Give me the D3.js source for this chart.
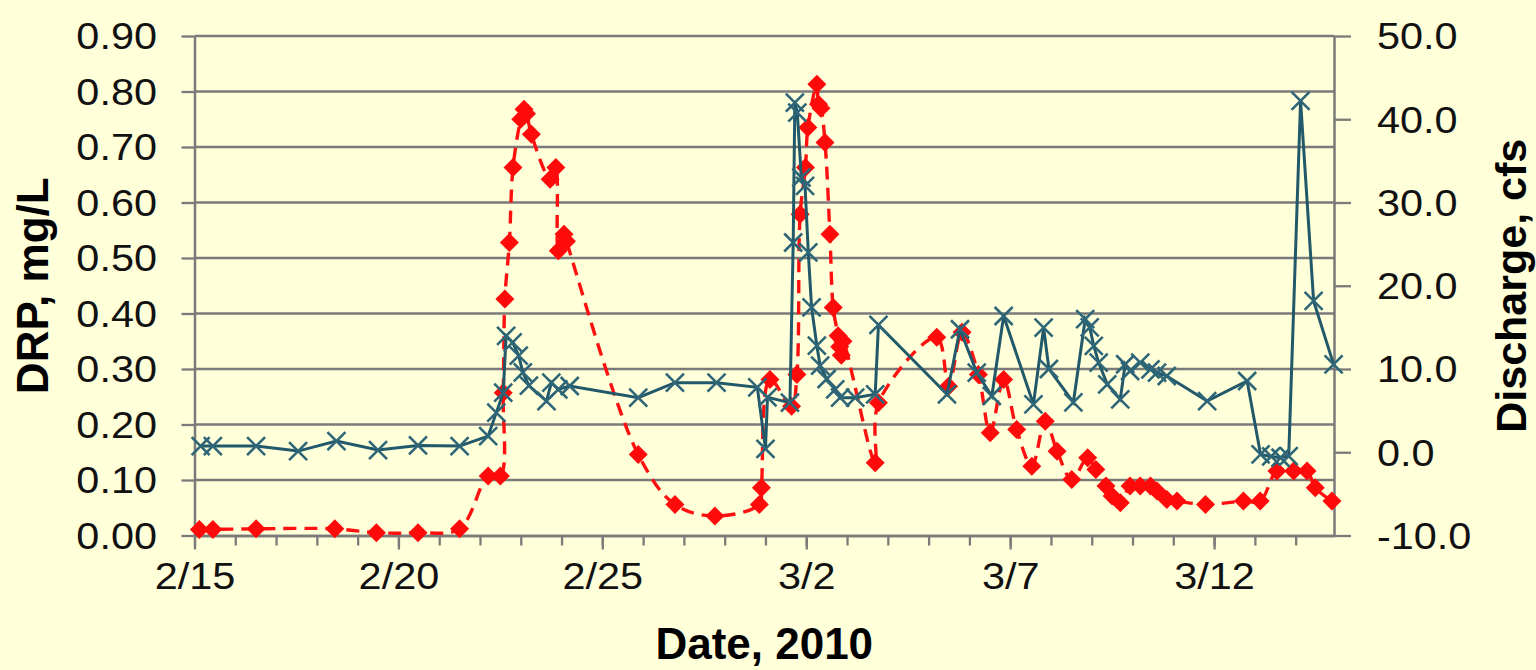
<!DOCTYPE html>
<html>
<head>
<meta charset="utf-8">
<script src="https://cdn.jsdelivr.net/npm/d3@7"></script>
<style>
  html, body { margin: 0; padding: 0; background: #FFFFDA; }
  svg { display: block; }
</style>
</head>
<body>
<svg id="chart" width="1536" height="670"></svg>
<script>
// ---------------- DATA ----------------
const startDate = [2010, 1, 15];           // Feb 15, 2010
const xEndDays = 27.94;                    // axis ends just before 3/15

// DRP (mg/L) – left axis, red dashed smoothed line with diamonds
const drpDays = [0.12, 0.45, 1.51, 3.44, 4.46, 5.48, 6.5, 7.2, 7.5, 7.57, 7.61, 7.72, 7.81, 8.0, 8.08, 8.14, 8.26,
  8.72, 8.86, 8.92, 9.06, 9.12, 10.88, 11.78, 12.76, 13.85, 13.9, 14.11, 14.64, 14.77, 14.85, 14.98, 15.04,
  15.26, 15.3, 15.36, 15.46, 15.58, 15.66, 15.78, 15.82, 15.86, 15.9, 16.69, 16.77, 18.2, 18.49, 18.82, 19.22,
  19.51, 19.84, 20.16, 20.53, 20.86, 21.15, 21.51, 21.9, 22.1, 22.35, 22.5, 22.7, 22.94, 23.19, 23.44, 23.6,
  23.84, 24.09, 24.79, 25.72, 26.13, 26.54, 26.95, 27.28, 27.48, 27.89];
const drpValues = [0.011, 0.011, 0.012, 0.012, 0.005, 0.005, 0.012, 0.107, 0.107, 0.257, 0.426, 0.528, 0.663, 0.750, 0.768, 0.760, 0.723,
  0.642, 0.663, 0.513, 0.543, 0.530, 0.146, 0.056, 0.035, 0.056, 0.086, 0.281, 0.233, 0.290, 0.579, 0.663, 0.735,
  0.813, 0.777, 0.770, 0.708, 0.543, 0.411, 0.360, 0.340, 0.325, 0.350, 0.131, 0.239, 0.357, 0.269, 0.366, 0.290,
  0.185, 0.281, 0.191, 0.125, 0.206, 0.152, 0.101, 0.140, 0.119, 0.089, 0.071, 0.059, 0.089, 0.089, 0.089, 0.080,
  0.065, 0.062, 0.056, 0.062, 0.062, 0.116, 0.116, 0.116, 0.086, 0.062];

// Discharge (cfs) – right axis, teal line with X markers
const flowDays = [0.15, 0.45, 1.51, 2.54, 3.48, 4.5, 5.48, 6.5, 7.2, 7.4, 7.57, 7.64, 7.8, 7.95, 8.05, 8.2, 8.63, 8.75,
  8.92, 9.2, 10.88, 11.78, 12.8, 13.8, 14.0, 14.05, 14.6, 14.68, 14.72, 14.78, 14.88, 14.97, 15.05, 15.13, 15.26,
  15.34, 15.5, 15.71, 15.83, 16.2, 16.69, 16.77, 18.45, 18.77, 19.18, 19.55, 19.84, 20.57, 20.82, 20.95, 21.55,
  21.84, 21.95, 22.05, 22.17, 22.38, 22.7, 22.82, 22.94, 23.19, 23.44, 23.6, 23.84, 24.83, 25.81, 26.14, 26.4,
  26.63, 26.83, 27.12, 27.44, 27.93];
const flowValues = [0.74, 0.74, 0.74, 0.14, 1.34, 0.26, 0.82, 0.74, 1.94, 4.76, 7.16, 13.97, 13.2, 11.6, 9.6, 8.0, 6.15, 8.36,
  7.56, 7.96, 6.56, 8.36, 8.36, 7.8, 0.4, 6.6, 5.96, 25.2, 42.0, 40.8, 33.0, 32.0, 24.0, 17.4, 12.8,
  10.4, 8.8, 7.56, 6.56, 6.56, 6.96, 15.3, 6.96, 14.77, 9.57, 6.76, 16.37, 5.76, 14.97, 10.0, 6.0,
  16.0, 15.0, 12.77, 10.77, 8.16, 6.36, 10.57, 9.76, 10.77, 9.96, 9.57, 9.16, 6.15, 8.56, -0.26, -0.5,
  -0.66, -0.46, 42.2, 18.18, 10.56];

// Axis ticks / labels
const xLabelDays = [0, 5, 10, 15, 20, 25];
const xTickLabels = ["2/15", "2/20", "2/25", "3/2", "3/7", "3/12"];
const leftTicks = [0, 0.1, 0.2, 0.3, 0.4, 0.5, 0.6, 0.7, 0.8, 0.9];
const rightTicks = [-10, 0, 10, 20, 30, 40, 50];
const leftTitle = "DRP, mg/L";
const rightTitle = "Discharge, cfs";
const xTitle = "Date, 2010";

// ---------------- CHART ----------------
const svg = d3.select("#chart");
const X0 = 194.5, X1 = 1334, Y0 = 535.5, Y1 = 36;
const t0 = new Date(startDate[0], startDate[1], startDate[2]).getTime();
const toDate = d => new Date(t0 + d * 864e5);

const x = d3.scaleTime().domain([toDate(0), toDate(xEndDays)]).range([X0, X1]);
const yL = d3.scaleLinear().domain([0, 0.9]).range([Y0, Y1]);
const yR = d3.scaleLinear().domain([-10, 50]).range([Y0, Y1]);

const gridColor = "#7a7a7a";
const tickFont = "'Liberation Sans', Arial, sans-serif";
const SX = 1.12;

svg.append("rect").attr("width", 1536).attr("height", 670).attr("fill", "#FFFFDA");

// gridlines
svg.append("g").selectAll("line").data(leftTicks.slice(1)).join("line")
  .attr("x1", X0).attr("x2", X1)
  .attr("y1", d => yL(d)).attr("y2", d => yL(d))
  .attr("stroke", gridColor).attr("stroke-width", 2.3);

// left axis
const gL = svg.append("g").attr("transform", `translate(${X0},0)`)
  .call(d3.axisLeft(yL).tickValues(leftTicks).tickFormat(d3.format(".2f")).tickSize(13).tickSizeOuter(0));
// right axis
const gR = svg.append("g").attr("transform", `translate(${X1},0)`)
  .call(d3.axisRight(yR).tickValues(rightTicks).tickFormat(d => d3.format(".1f")(d).replace("\u2212", "-")).tickSize(17).tickSizeOuter(0));
// x axis minor (daily)
const dayTicks = d3.range(0, Math.floor(xEndDays) + 1).map(toDate);
const gXm = svg.append("g").attr("transform", `translate(0,${Y0})`)
  .call(d3.axisBottom(x).tickValues(dayTicks).tickFormat("").tickSize(10).tickSizeOuter(0));
// x axis major (labelled)
const gX = svg.append("g").attr("transform", `translate(0,${Y0})`)
  .call(d3.axisBottom(x).tickValues(xLabelDays.map(toDate))
    .tickFormat((d, i) => xTickLabels[i]).tickSize(14).tickSizeOuter(0));

[gL, gR, gXm, gX].forEach(g => {
  g.selectAll("path.domain").attr("stroke", gridColor).attr("stroke-width", 2.5);
  g.selectAll(".tick line").attr("stroke", gridColor).attr("stroke-width", 2.3);
  g.selectAll("text").attr("font-family", tickFont).attr("font-size", 37).attr("fill", "#111");
});
gL.selectAll("text").attr("x", -37.5 / SX).attr("dy", "0.35em").attr("transform", `scale(${SX},1)`);
gR.selectAll("text").attr("x", 43 / SX).attr("dy", "0.35em").attr("transform", `scale(${SX},1)`);
gX.selectAll("text").attr("y", 54).attr("dy", 0).attr("transform", `scale(${SX},1)`);

// DRP series
const drpData = drpDays.map((d, i) => ({ t: toDate(d), v: drpValues[i] }));
const flowData = flowDays.map((d, i) => ({ t: toDate(d), v: flowValues[i] }));

svg.append("path").datum(drpData)
  .attr("fill", "none").attr("stroke", "#FF1010").attr("stroke-width", 3.4)
  .attr("stroke-dasharray", "13,8")
  .attr("d", d3.line().x(d => x(d.t)).y(d => yL(d.v)).curve(d3.curveCatmullRom.alpha(0.5)));

svg.append("g").selectAll("path").data(drpData).join("path")
  .attr("transform", d => `translate(${x(d.t)},${yL(d.v)})`)
  .attr("d", "M0,-9.5L9.5,0L0,9.5L-9.5,0Z")
  .attr("fill", "#FF0A0A");

// Discharge series
svg.append("path").datum(flowData)
  .attr("fill", "none").attr("stroke", "#22596A").attr("stroke-width", 3)
  .attr("d", d3.line().x(d => x(d.t)).y(d => yR(d.v)));

svg.append("g").selectAll("path").data(flowData).join("path")
  .attr("transform", d => `translate(${x(d.t)},${yR(d.v)})`)
  .attr("d", "M-9,-9L9,9M-9,9L9,-9")
  .attr("stroke", "#2E6678").attr("stroke-width", 2.6).attr("fill", "none");

// titles
svg.append("text").text(leftTitle)
  .attr("transform", `translate(48,${(Y0 + Y1) / 2}) rotate(-90)`)
  .attr("text-anchor", "middle")
  .attr("font-family", tickFont).attr("font-weight", "bold").attr("font-size", 44).attr("fill", "#000");
svg.append("text").text(rightTitle)
  .attr("transform", `translate(1526,${(Y0 + Y1) / 2}) rotate(-90)`)
  .attr("text-anchor", "middle")
  .attr("font-family", tickFont).attr("font-weight", "bold").attr("font-size", 43).attr("fill", "#000");
svg.append("text").text(xTitle)
  .attr("x", (X0 + X1) / 2).attr("y", 659)
  .attr("text-anchor", "middle")
  .attr("font-family", tickFont).attr("font-weight", "bold").attr("font-size", 44).attr("fill", "#000");
</script>
</body>
</html>
